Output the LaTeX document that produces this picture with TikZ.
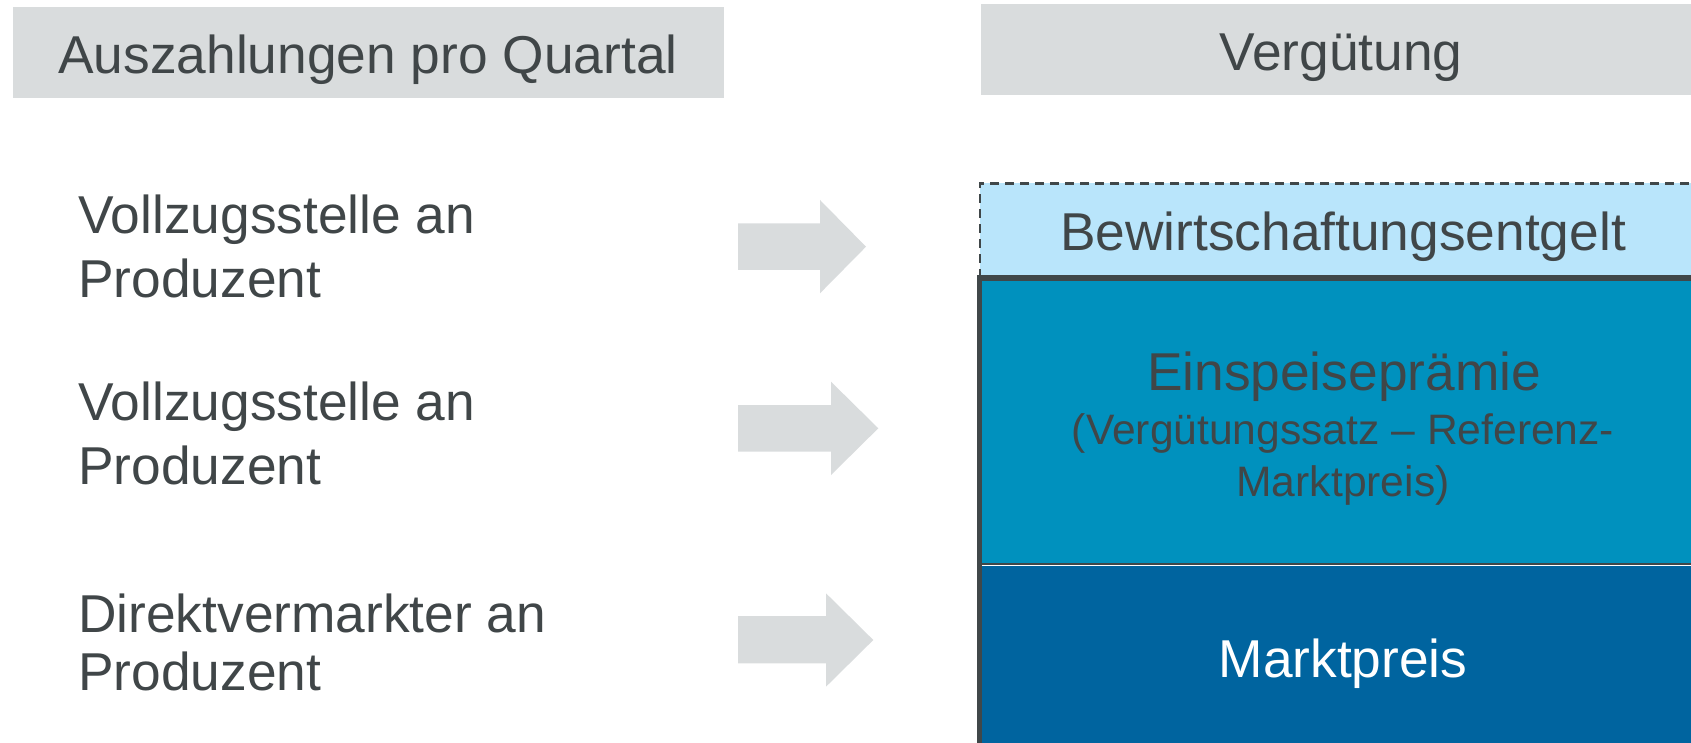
\documentclass[tikz,border=0pt]{standalone}
\usepackage{fontspec}
\setmainfont{Liberation Sans}
\definecolor{hdrgray}{HTML}{D9DCDD}
\definecolor{txtgray}{HTML}{404648}
\definecolor{lightblue}{HTML}{B9E5FB}
\definecolor{midblue}{HTML}{0091BE}
\definecolor{darkblue}{HTML}{00649F}
\definecolor{edgegray}{HTML}{404749}
\tikzset{
  lbl/.style={inner sep=0pt, text=txtgray, font=\fontsize{53.3}{64}\selectfont},
  sublbl/.style={inner sep=0pt, text=txtgray, font=\fontsize{42.6}{52}\selectfont},
  hdrbox/.style={fill=hdrgray},
  blockarrow/.style={fill=hdrgray},
  boxedge/.style={draw=edgegray, line width=5.3pt, line join=miter},
  dashedge/.style={draw=edgegray, line width=2.6pt, dash pattern=on 9pt off 6pt},
}
\begin{document}
\begin{tikzpicture}[x=1pt, y=-1pt]
\useasboundingbox (0,0) rectangle (1691,743);
\clip (0,0) rectangle (1691,743);

% column headers
\fill[hdrbox] (13,6.7) rectangle (724,97.7);
\fill[hdrbox] (981,4) rectangle (1705,94.7);
\node[lbl, anchor=base] (hL) at (368,73.5) {Auszahlungen pro Quartal};
\node[lbl, anchor=base] (hR) at (1341,71) {Vergütung};

% payment flows on the left
\node[lbl, anchor=base west] (p1) at (78,233.3)
  {\begin{tabular}[t]{@{}l@{}}Vollzugsstelle an\\Produzent\end{tabular}};
\node[lbl, anchor=base west] (p2) at (78,420.5)
  {\begin{tabular}[t]{@{}l@{}}Vollzugsstelle an\\Produzent\end{tabular}};
\node[lbl, anchor=base west, font=\fontsize{53.3}{58}\selectfont] (p3) at (78,632)
  {\begin{tabular}[t]{@{}l@{}}Direktvermarkter an\\Produzent\end{tabular}};

% block arrows
\fill[blockarrow] (738,223.3) -- (820,223.3) -- (820,200) -- (866,246.7)
  -- (820,293.3) -- (820,270) -- (738,270) -- cycle;
\fill[blockarrow] (738,405) -- (831,405) -- (831,381.7) -- (878.3,428.3)
  -- (831,475) -- (831,451.7) -- (738,451.7) -- cycle;
\fill[blockarrow] (738,616) -- (826,616) -- (826,593.3) -- (873.3,640)
  -- (826,686.7) -- (826,663.3) -- (738,663.3) -- cycle;

% remuneration stack
\fill[lightblue] (980,183.3) rectangle (1705,278);
\draw[dashedge] (980,278) -- (980,183.3) -- (1705,183.3);
\fill[midblue] (979,278) rectangle (1705,563.5);
\fill[darkblue] (979,563.5) rectangle (1705,760);
\draw[edgegray, line width=1.7pt] (982,563.8) -- (1705,563.8);
\draw[white, line width=1.1pt] (982,565.2) -- (1705,565.2);
\draw[boxedge] (979.3,760) -- (979.3,278) -- (1710,278);

\node[lbl, anchor=base] (bw) at (1343,251) {Bewirtschaftungsentgelt};
\node[lbl, anchor=base] (ep) at (1344,390) {Einspeiseprämie};
\node[sublbl, anchor=base] (eps) at (1343,444)
  {\begin{tabular}[t]{@{}c@{}}(Vergütungssatz – Referenz-\\Marktpreis)\end{tabular}};
\node[lbl, anchor=base, text=white] (mp) at (1343,677) {Marktpreis};
\end{tikzpicture}
\end{document}
